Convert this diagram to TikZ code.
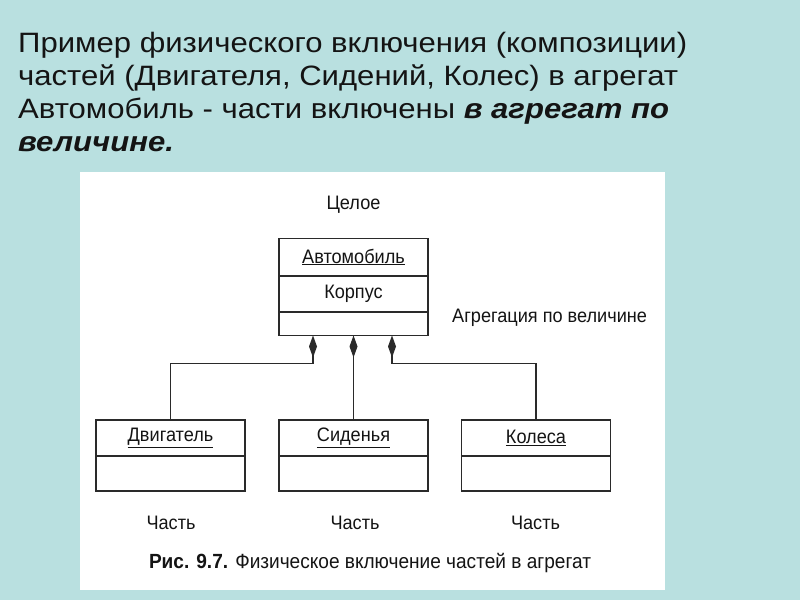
\documentclass[tikz,border=0pt]{standalone}
\usepackage{fontspec}
\setmainfont{Liberation Sans}
\newfontfamily\narrow[FakeStretch=0.93]{Liberation Sans}
\newfontfamily\wide[FakeStretch=1.11]{Liberation Sans}
\usetikzlibrary{arrows.meta}
\definecolor{bg}{HTML}{B9E0E0}
\definecolor{ink}{HTML}{141414}
\definecolor{lin}{HTML}{2A2A2A}
\tikzset{
  cls/.style={draw=lin, line width=1.5pt, minimum width=149pt, inner sep=0pt},
  sep/.style={draw=lin, line width=1.5pt},
  lbl/.style={font=\narrow\fontsize{19.5}{22}\selectfont, text=ink, inner sep=0pt},
  ttl/.style={font=\wide\fontsize{28}{33}\selectfont, text=ink, inner sep=0pt, anchor=base west},
  dia/.style={draw=lin, line width=1.4pt, {Diamond[length=22pt,width=8pt,fill=lin]}-},
}
\begin{document}
\begin{tikzpicture}[x=1pt,y=-1pt]
\useasboundingbox (0,0) rectangle (800,600);
\fill[bg] (0,0) rectangle (800,600);
\fill[white] (80,172) rectangle (665,590);
% title
\node[ttl] (title1) at (18,52) {Пример физического включения (композиции)};
\node[ttl] (title2) at (18,85) {частей (Двигателя, Сидений, Колес) в агрегат};
\node[ttl] (title3) at (18,118) {Автомобиль - части включены \textbf{\textit{в агрегат по}}};
\node[ttl] (title4) at (18,151) {\textbf{\textit{величине.}}};
% whole
\node[cls, minimum height=97pt] (car) at (353.5,287) {};
\draw[sep] (car.west |- 0,276) -- (car.east |- 0,276);
\draw[sep] (car.west |- 0,312) -- (car.east |- 0,312);
\node[lbl] (carname) at (353.5,257) {\underline{Автомобиль}};
\node[lbl] (carattr) at (353.5,294) {Корпус};
\node[lbl] (whole) at (353.5,205) {Целое};
\node[lbl, anchor=west] (agg) at (452,318) {Агрегация по величине};
% parts
\node[cls, minimum height=71pt, anchor=north] (eng) at (170.5,419) {};
\node[cls, minimum height=71pt, anchor=north] (seat) at (353.5,419) {};
\node[cls, minimum height=71pt, anchor=north] (whl) at (536,419) {};
\foreach \n in {eng,seat,whl}{\draw[sep] (\n.west |- 0,456) -- (\n.east |- 0,456);}
\node[lbl] (engname) at (170.5,438) {\underline{Двигатель}};
\node[lbl] (seatname) at (353.5,438) {\underline{Сиденья}};
\node[lbl] (whlname) at (536,438) {\underline{Колеса}};
\node[lbl] (p1) at (171,523) {Часть};
\node[lbl] (p2) at (355,523) {Часть};
\node[lbl] (p3) at (535.5,523) {Часть};
% connectors
\coordinate (c1) at (313,335.5);
\coordinate (c2) at (353.5,335.5);
\coordinate (c3) at (392,335.5);
\draw[dia] (c1) -- ++(0,28) -| (eng.north);
\draw[dia] (c2) -- (seat.north);
\draw[dia] (c3) -- ++(0,28) -| (whl.north);
% caption
\node[lbl, font=\narrow\fontsize{20.5}{24}\selectfont] (cap) at (370,563) {\textbf{Рис. 9.7.} Физическое включение частей в агрегат};
\end{tikzpicture}
\end{document}
